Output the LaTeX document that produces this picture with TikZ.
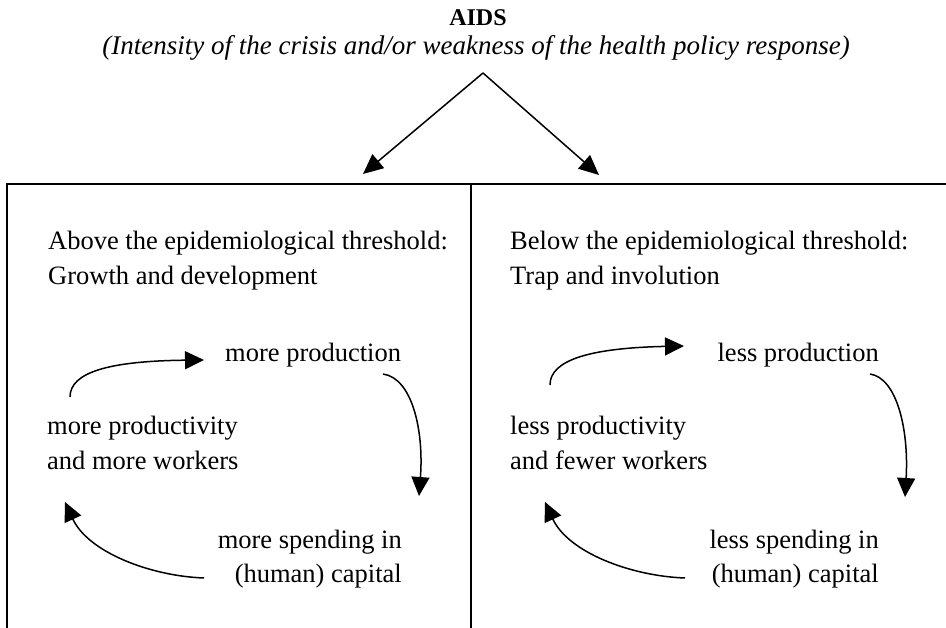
\documentclass[tikz,border=0pt]{standalone}
\usepackage{fontspec}
\setmainfont{Liberation Serif}
\usetikzlibrary{arrows.meta}
\begin{document}
\begin{tikzpicture}[x=1pt,y=-1pt,
  txt/.style={inner sep=0pt, font=\fontsize{26.5}{35}\selectfont},
  arr/.style={-{Triangle[length=20pt,width=18pt]}, line width=1.5pt},
  carr/.style={-{Triangle[length=19pt,width=18pt]}, line width=1.5pt},
  frame/.style={line width=2pt}]
\useasboundingbox (0,0) rectangle (946,628);
% title
\node[inner sep=0pt, anchor=base, font=\bfseries\fontsize{24}{28}\selectfont] (aids) at (478,26) {AIDS};
\node[inner sep=0pt, anchor=base, font=\itshape\fontsize{27}{32}\selectfont] (sub) at (476,55) {(Intensity of the crisis and/or weakness of the health policy response)};
\coordinate (apex) at (483,73);
\coordinate (ltip) at (363,174);
\coordinate (rtip) at (599,175);
\draw[arr] (apex) -- (ltip);
\draw[arr] (apex) -- (rtip);
% frame
\coordinate (tl) at (7,184);
\coordinate (tr) at (946,184);
\coordinate (bl) at (7,628);
\coordinate (tm) at (471,184);
\coordinate (bm) at (471,628);
\draw[frame] (bl) -- (tl) -- (tr);
\draw[frame] (tm) -- (bm);
% left panel
\node[txt, anchor=base west] (lhead1) at (48,250) {Above the epidemiological threshold:};
\node[txt, anchor=base west] (lhead2) at (48,285) {Growth and development};
\node[txt, anchor=base west] (lprod) at (225,362) {more production};
\node[txt, anchor=base west] (lwork1) at (47,435) {more productivity};
\node[txt, anchor=base west] (lwork2) at (47,470) {and more workers};
\node[txt, anchor=base east] (lspend1) at (402,548) {more spending in};
\node[txt, anchor=base east] (lspend2) at (402,582) {(human) capital};
\coordinate (la1) at (70,397);
\coordinate (la2) at (204,360);
\coordinate (lb1) at (383,374);
\coordinate (lb2) at (419,496);
\coordinate (lc1) at (204,578);
\coordinate (lc2) at (65,502);
\draw[carr] (la1) .. controls (70,372) and (110,361) .. (la2);
\draw[carr] (lb1) .. controls (412,378) and (424,430) .. (lb2);
\draw[carr] (lc1) .. controls (150,576) and (88,552) .. (lc2);
% right panel
\node[txt, anchor=base west] (rhead1) at (510,250) {Below the epidemiological threshold:};
\node[txt, anchor=base west] (rhead2) at (510,285) {Trap and involution};
\node[txt, anchor=base east] (rprod) at (879,362) {less production};
\node[txt, anchor=base west] (rwork1) at (510,435) {less productivity};
\node[txt, anchor=base west] (rwork2) at (510,470) {and fewer workers};
\node[txt, anchor=base east] (rspend1) at (879,548) {less spending in};
\node[txt, anchor=base east] (rspend2) at (879,582) {(human) capital};
\coordinate (ra1) at (550,385);
\coordinate (ra2) at (684,346);
\coordinate (rb1) at (870,374);
\coordinate (rb2) at (905,497);
\coordinate (rc1) at (685,578);
\coordinate (rc2) at (545,502);
\draw[carr] (ra1) .. controls (550,360) and (590,348) .. (ra2);
\draw[carr] (rb1) .. controls (897,378) and (909,430) .. (rb2);
\draw[carr] (rc1) .. controls (630,576) and (568,552) .. (rc2);
\end{tikzpicture}
\end{document}
